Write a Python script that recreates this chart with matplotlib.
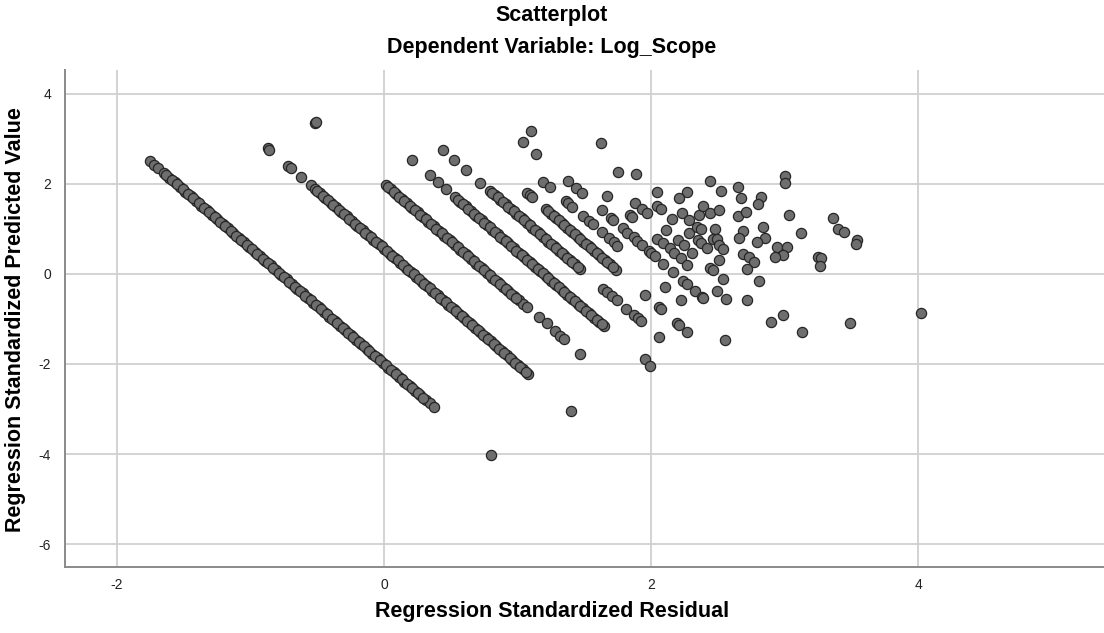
import matplotlib
matplotlib.use("Agg")
import matplotlib.pyplot as plt
import numpy as np

# Regression standardized residual (x) and standardized predicted value (y),
# grouped by the diagonal bands that the discrete outcome produces.
band1_resid = [-1.75, -1.72, -1.69, -1.65, -1.61, -1.57, -1.53, -1.49, -1.45, -1.41,
               -1.37, -1.33, -1.29, -1.25, -1.21, -1.17, -1.13, -1.09, -1.05, -1.01,
               -0.97, -0.93, -0.89, -0.85, -0.81, -0.77, -0.73, -0.69, -0.65, -0.61,
               -0.57, -0.53, -0.49, -0.45, -0.41, -0.37, -0.33, -0.29, -0.25, -0.21,
               -0.17, -0.13, -0.09, -0.05, -0.01, 0.03, 0.07, 0.11, 0.15, 0.19,
               0.23, 0.27, 0.31, 0.34, 0.375, 0.80,
               -1.63, -1.59, -1.55, -1.51, -1.47, -1.43, -1.39, -1.35, -1.31, -1.27,
               -1.23, -1.19, -1.15, -1.11, -1.07, -1.03, -0.99, -0.95, -0.91, -0.87,
               -0.83, -0.79, -0.75, -0.71, -0.67, -0.63, -0.59, -0.55, -0.51, -0.47,
               -0.43, -0.39, -0.35, -0.31, -0.27, -0.23, -0.19, -0.15, -0.11, -0.07,
               -0.03, 0.01, 0.05, 0.09, 0.13, 0.17, 0.21, 0.25, 0.29]
band1_pred = [2.50, 2.42, 2.35, 2.24, 2.14, 2.04, 1.94, 1.83, 1.73, 1.63,
              1.52, 1.42, 1.32, 1.22, 1.11, 1.01, 0.91, 0.80, 0.70, 0.60,
              0.49, 0.39, 0.29, 0.19, 0.08, -0.02, -0.12, -0.23, -0.33, -0.43,
              -0.53, -0.64, -0.74, -0.84, -0.95, -1.05, -1.15, -1.25, -1.36, -1.46,
              -1.56, -1.67, -1.77, -1.87, -1.97, -2.08, -2.18, -2.28, -2.39, -2.49,
              -2.59, -2.69, -2.80, -2.87, -2.96, -4.02,
              2.19, 2.09, 1.99, 1.88, 1.78, 1.68, 1.58, 1.47, 1.37, 1.27,
              1.16, 1.06, 0.96, 0.85, 0.75, 0.65, 0.55, 0.44, 0.34, 0.24,
              0.13, 0.03, -0.07, -0.17, -0.28, -0.38, -0.48, -0.59, -0.69, -0.79,
              -0.89, -1.00, -1.10, -1.20, -1.31, -1.41, -1.51, -1.61, -1.72, -1.82,
              -1.92, -2.03, -2.13, -2.23, -2.33, -2.44, -2.54, -2.64, -2.75]

band2_resid = [-0.87, -0.86, -0.72, -0.70, -0.62, -0.55, -0.52, -0.48, -0.44, -0.40,
               -0.36, -0.32, -0.28, -0.24, -0.20, -0.16, -0.12, -0.08, -0.04, 0.00,
               0.04, 0.08, 0.12, 0.16, 0.20, 0.24, 0.28, 0.32, 0.36, 0.40,
               0.44, 0.48, 0.52, 0.56, 0.60, 0.64, 0.68, 0.72, 0.76, 0.80,
               0.84, 0.88, 0.92, 0.96, 1.00, 1.04, 1.08, 1.40,
               -0.50, -0.46, -0.42, -0.38, -0.34, -0.30, -0.26, -0.22, -0.18, -0.14,
               -0.10, -0.06, -0.02, 0.02, 0.06, 0.10, 0.14, 0.18, 0.22, 0.26,
               0.30, 0.34, 0.38, 0.42, 0.46, 0.50, 0.54, 0.58, 0.62, 0.66,
               0.70, 0.74, 0.78, 0.82, 0.86, 0.90, 0.94, 0.98, 1.02, 1.06]
band2_pred = [2.79, 2.76, 2.40, 2.36, 2.15, 1.97, 1.89, 1.79, 1.69, 1.58,
              1.48, 1.38, 1.28, 1.17, 1.07, 0.97, 0.86, 0.76, 0.66, 0.56,
              0.45, 0.35, 0.25, 0.14, 0.04, -0.06, -0.17, -0.27, -0.37, -0.47,
              -0.58, -0.68, -0.78, -0.89, -0.99, -1.09, -1.19, -1.30, -1.40, -1.50,
              -1.61, -1.71, -1.81, -1.91, -2.02, -2.12, -2.22, -3.05,
              1.84, 1.74, 1.64, 1.53, 1.43, 1.33, 1.22, 1.12, 1.02, 0.92,
              0.81, 0.71, 0.61, 0.50, 0.40, 0.30, 0.19, 0.09, -0.01, -0.11,
              -0.22, -0.32, -0.42, -0.53, -0.63, -0.73, -0.83, -0.94, -1.04, -1.14,
              -1.25, -1.35, -1.45, -1.55, -1.66, -1.76, -1.86, -1.97, -2.07, -2.17]

band3_resid = [-0.52, -0.51, 0.01, 0.05, 0.09, 0.13, 0.17, 0.21, 0.25, 0.29,
               0.33, 0.37, 0.41, 0.45, 0.49, 0.53, 0.57, 0.61, 0.65, 0.69,
               0.73, 0.77, 0.81, 0.85, 0.89, 0.93, 0.97, 1.01, 1.04, 1.07,
               1.16, 1.22, 1.28, 1.32, 1.35, 1.47,
               0.03, 0.07, 0.11, 0.15, 0.19, 0.23, 0.27, 0.31, 0.35, 0.39,
               0.43, 0.47, 0.51, 0.55, 0.59, 0.63, 0.67, 0.71, 0.75, 0.79,
               0.83, 0.87, 0.91, 0.95, 0.99]
band3_pred = [3.35, 3.38, 1.98, 1.88, 1.78, 1.67, 1.57, 1.47, 1.37, 1.26,
              1.16, 1.06, 0.95, 0.85, 0.75, 0.64, 0.54, 0.44, 0.34, 0.23,
              0.13, 0.03, -0.08, -0.18, -0.28, -0.38, -0.49, -0.59, -0.67, -0.74,
              -0.96, -1.10, -1.27, -1.37, -1.44, -1.77,
              1.93, 1.83, 1.72, 1.62, 1.52, 1.42, 1.31, 1.21, 1.11, 1.00,
              0.90, 0.80, 0.70, 0.59, 0.49, 0.39, 0.28, 0.18, 0.08, -0.02,
              -0.13, -0.23, -0.33, -0.44, -0.54]

band4_resid = [0.21, 0.34, 0.40, 0.46, 0.53, 0.57, 0.61, 0.65, 0.69, 0.73,
               0.77, 0.81, 0.85, 0.89, 0.93, 0.97, 1.01, 1.05, 1.09, 1.13,
               1.17, 1.21, 1.25, 1.29, 1.33, 1.37, 1.41, 1.45, 1.49, 1.53,
               1.57, 1.61, 1.645, 1.95, 1.99,
               0.55, 0.59, 0.63, 0.67, 0.71, 0.75, 0.79, 0.83, 0.87, 0.91,
               0.95, 0.99, 1.03, 1.07, 1.11, 1.15, 1.19, 1.23, 1.27, 1.31,
               1.35, 1.39, 1.43, 1.47, 1.51, 1.55, 1.59, 1.63]
band4_pred = [2.53, 2.19, 2.05, 1.89, 1.70, 1.60, 1.50, 1.40, 1.29, 1.19,
              1.09, 0.98, 0.88, 0.78, 0.68, 0.57, 0.47, 0.37, 0.26, 0.16,
              0.06, -0.04, -0.15, -0.25, -0.35, -0.46, -0.56, -0.66, -0.76, -0.87,
              -0.97, -1.07, -1.16, -1.90, -2.04,
              1.65, 1.55, 1.45, 1.34, 1.24, 1.14, 1.04, 0.93, 0.83, 0.73,
              0.62, 0.52, 0.42, 0.32, 0.21, 0.11, 0.01, -0.10, -0.20, -0.30,
              -0.40, -0.51, -0.61, -0.71, -0.82, -0.92, -1.02, -1.12]

band5_resid = [0.44, 0.52, 0.61, 0.72, 0.79, 0.83, 0.87, 0.91, 0.95, 0.99,
               1.03, 1.07, 1.11, 1.15, 1.19, 1.23, 1.27, 1.31, 1.35, 1.39,
               1.43, 1.465, 1.64, 1.67, 1.705, 1.74, 1.81, 1.87, 1.90, 1.92,
               2.055,
               0.81, 0.85, 0.89, 0.93, 0.97, 1.01, 1.05, 1.09, 1.13, 1.17,
               1.21, 1.25, 1.29, 1.33, 1.37, 1.41, 1.45]
band5_pred = [2.75, 2.54, 2.31, 2.02, 1.85, 1.75, 1.65, 1.55, 1.44, 1.34,
              1.24, 1.13, 1.03, 0.93, 0.83, 0.72, 0.62, 0.52, 0.41, 0.31,
              0.21, 0.12, -0.34, -0.40, -0.50, -0.57, -0.77, -0.92, -0.98, -1.05,
              -1.40,
              1.80, 1.70, 1.60, 1.49, 1.39, 1.29, 1.19, 1.08, 0.98, 0.88,
              0.77, 0.67, 0.57, 0.47, 0.36, 0.26, 0.16]

band6_resid = [1.07, 1.09, 1.11, 1.21, 1.25, 1.29, 1.33, 1.37, 1.41, 1.45,
               1.49, 1.53, 1.57, 1.61, 1.65, 1.69, 1.735, 1.955, 2.055, 2.07,
               2.19, 2.21, 2.27,
               1.23, 1.27, 1.31, 1.35, 1.39, 1.43, 1.47, 1.51, 1.55, 1.59,
               1.63, 1.67, 1.71]
band6_pred = [1.80, 1.75, 1.70, 1.44, 1.34, 1.24, 1.13, 1.03, 0.93, 0.83,
              0.72, 0.62, 0.52, 0.41, 0.31, 0.21, 0.09, -0.47, -0.73, -0.77,
              -1.08, -1.13, -1.28,
              1.39, 1.29, 1.19, 1.08, 0.98, 0.88, 0.77, 0.67, 0.57, 0.47,
              0.36, 0.26, 0.16]

band7_resid = [1.19, 1.24, 1.36, 1.38, 1.41, 1.49, 1.53, 1.56, 1.63, 1.68,
               1.72, 1.745, 2.105, 2.22]
band7_pred = [2.05, 1.92, 1.62, 1.57, 1.49, 1.28, 1.18, 1.11, 0.93, 0.80,
              0.70, 0.63, -0.29, -0.58]

band8_resid = [1.04, 1.14, 1.38, 1.44, 1.48, 1.63, 1.70, 1.715, 1.79, 1.82,
               1.87, 1.89, 1.93, 1.98, 2.00, 2.03, 2.09, 2.16, 2.24, 2.27,
               2.33, 2.38]
band8_pred = [2.93, 2.66, 2.06, 1.90, 1.80, 1.41, 1.24, 1.19, 1.01, 0.92,
              0.81, 0.74, 0.65, 0.52, 0.46, 0.39, 0.23, 0.05, -0.16, -0.23,
              -0.38, -0.51]

cloud_resid = [1.10, 1.62, 1.75, 1.885, 1.67, 2.04, 2.27, 2.21, 2.44, 1.88,
               1.93, 1.97, 1.84, 1.855, 2.04, 2.07, 2.155, 2.23, 2.28, 2.36,
               2.39, 2.44, 2.51, 2.11, 2.04, 2.09, 2.14, 2.17, 2.22, 2.27,
               2.20, 2.245, 2.28, 2.34, 2.37, 2.48, 2.35, 2.37, 2.42, 2.46,
               2.49, 2.51, 2.54, 2.305, 2.44, 2.46, 2.51, 2.54, 2.49, 2.56,
               2.39, 2.55, 2.52, 2.65, 2.67, 3.00, 3.00, 2.82, 2.80, 2.65,
               2.71, 3.03, 3.36, 3.40, 3.44, 3.54, 3.53, 2.69, 2.66, 2.84,
               2.85, 2.79, 3.12, 2.94, 3.02, 2.99, 2.93, 2.69, 2.73, 2.77,
               2.72, 3.25, 3.27, 3.26, 2.81, 2.72, 2.99, 2.90, 3.13, 3.49,
               4.02]
cloud_pred = [3.18, 2.90, 2.26, 2.23, 1.73, 1.81, 1.82, 1.68, 2.06, 1.58,
              1.44, 1.35, 1.31, 1.26, 1.51, 1.44, 1.22, 1.35, 1.20, 1.31,
              1.50, 1.35, 1.41, 0.98, 0.77, 0.68, 0.57, 0.46, 0.35, 0.20,
              0.76, 0.65, 0.90, 1.04, 0.99, 0.99, 0.76, 0.68, 0.57, 0.77,
              0.78, 0.65, 0.55, 0.47, 0.13, 0.08, 0.32, -0.12, -0.37, -0.56,
              -0.53, -1.47, 1.84, 1.93, 1.68, 2.18, 2.02, 1.70, 1.56, 1.29,
              1.38, 1.31, 1.25, 1.00, 0.93, 0.76, 0.67, 0.96, 0.79, 1.04,
              0.79, 0.72, 0.92, 0.59, 0.59, 0.42, 0.37, 0.44, 0.37, 0.27,
              0.10, 0.38, 0.35, 0.18, -0.15, -0.59, -0.91, -1.06, -1.28, -1.08,
              -0.87]

x_ticks = [-2, 0, 2, 4]
y_ticks = [-6, -4, -2, 0, 2, 4]

resid = np.concatenate([band1_resid, band2_resid, band3_resid, band4_resid,
                        band5_resid, band6_resid, band7_resid, band8_resid, cloud_resid])
pred = np.concatenate([band1_pred, band2_pred, band3_pred, band4_pred,
                       band5_pred, band6_pred, band7_pred, band8_pred, cloud_pred])

plt.rcParams["font.family"] = ["Liberation Sans", "DejaVu Sans"]

W, H = 1104, 633
fig = plt.figure(figsize=(W / 100, H / 100), dpi=100)
ax = fig.add_axes([65 / W, 1 - 567 / H, 1 - 65 / W, (567 - 70) / H])

ax.scatter(resid, pred, s=54, facecolor="#6e6e6e", edgecolor="#262626",
           linewidths=0.9, zorder=3)

ax.set_xlim(-2.39, 5.39)
ax.set_ylim(-6.51, 4.53)
ax.set_xticks(x_ticks)
ax.set_yticks(y_ticks)
ax.set_xticklabels([str(t) for t in x_ticks])
ax.set_yticklabels([str(t) for t in y_ticks])
ax.grid(True, color="#d0d0d0", linewidth=1.3, zorder=0)
ax.set_axisbelow(True)
ax.tick_params(axis="x", length=0, labelsize=10, colors="#222222", pad=8)
ax.tick_params(axis="y", length=0, labelsize=10, colors="#222222", pad=10)

for side in ("top", "right"):
    ax.spines[side].set_visible(False)
for side in ("left", "bottom"):
    ax.spines[side].set_color("#8a8a8a")
    ax.spines[side].set_linewidth(1.4)

label_size = 15.5
fig.text(0.5, 1 - 16 / H, "Scatterplot", ha="center", va="center",
         fontsize=label_size, fontweight="bold")
fig.text(0.5, 1 - 48 / H, "Dependent Variable: Log_Scope", ha="center", va="center",
         fontsize=label_size, fontweight="bold")
fig.text(0.5, 1 - 612 / H, "Regression Standardized Residual", ha="center", va="center",
         fontsize=label_size, fontweight="bold")
fig.text(16 / W, 1 - 320 / H, "Regression Standardized Predicted Value", ha="center",
         va="center", rotation=90, fontsize=label_size, fontweight="bold")

fig.savefig("out.png", dpi=100)
